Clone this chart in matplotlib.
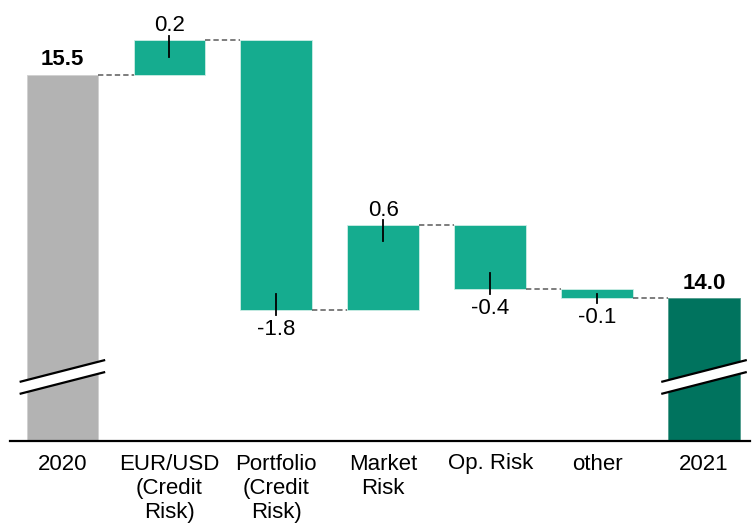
import matplotlib
matplotlib.use("Agg")
import matplotlib.pyplot as plt
from matplotlib.patches import Polygon

plt.rcParams["font.family"] = ["Liberation Sans Narrow", "Liberation Sans", "DejaVu Sans"]

# data
categorias = ["2020", "EUR/USD\n(Credit\nRisk)", "Portfolio\n(Credit\nRisk)",
              "Market\nRisk", "Op. Risk", "other", "2021"]
inicio = 15.5
deltas = [0.23, -1.80, 0.57, -0.43, -0.06]
fin = inicio + sum(deltas)

gris = "#B3B3B3"
verde = "#15AC8F"
verde_osc = "#00735E"
ancho = 0.67
y_min, y_max = 13.06, 16.0

fig = plt.figure(figsize=(7.53, 5.25), dpi=100)
ax = fig.add_axes([10 / 753, 84 / 525, 740 / 753, 441 / 525])

xs = list(range(len(categorias)))

# start and end totals
ax.bar(xs[0], inicio, width=ancho, color=gris, edgecolor="#D0D0D0", linewidth=0.6)
ax.bar(xs[-1], fin, width=ancho, color=verde_osc, edgecolor="#4E9C8C", linewidth=0.6)

# deltas
niveles = [inicio]
for i, d in enumerate(deltas):
    base = niveles[-1]
    ax.bar(xs[i + 1], d, bottom=base, width=ancho, color=verde,
           edgecolor="#CDEDE6", linewidth=0.6)
    niveles.append(base + d)

# dashed connectors
for i in range(len(xs) - 1):
    ax.plot([xs[i] + ancho / 2, xs[i + 1] - ancho / 2], [niveles[i], niveles[i]],
            color="#5A5A5A", linestyle=(0, (3.5, 2)), linewidth=1.1)

# delta labels with small pointer ticks
for i, d in enumerate(deltas):
    x = xs[i + 1]
    base = niveles[i]
    tope = base + d
    dentro = min(0.11, abs(d) / 2)
    if d >= 0:
        ax.plot([x, x], [tope + 0.033, tope - dentro], color="black", linewidth=1.3)
        ax.annotate(f"{d:.1f}", (x, tope), xytext=(0, 6.5), textcoords="offset points",
                    ha="center", va="baseline", fontsize=16)
    else:
        ax.plot([x, x], [tope - 0.033, tope + dentro], color="black", linewidth=1.3)
        ax.annotate(f"{d:.1f}", (x, tope), xytext=(0, -18), textcoords="offset points",
                    ha="center", va="baseline", fontsize=16)

# totals labels
ax.annotate(f"{inicio:.1f}", (xs[0], inicio), xytext=(0, 7), textcoords="offset points",
            ha="center", va="baseline", fontsize=16, fontweight="bold")
ax.annotate(f"{fin:.1f}", (xs[-1], fin), xytext=(0, 7), textcoords="offset points",
            ha="center", va="baseline", fontsize=16, fontweight="bold")

# axis break marks
yb, pend, gap, mitad = 13.487, 0.073, 0.04, 0.40
for x in (xs[0], xs[-1]):
    sup = [(x - mitad, yb - pend + gap), (x + mitad, yb + pend + gap)]
    inf = [(x - mitad, yb - pend - gap), (x + mitad, yb + pend - gap)]
    ax.add_patch(Polygon(sup + inf[::-1], closed=True, facecolor="white",
                         edgecolor="none", zorder=3))
    for linea in (sup, inf):
        ax.plot([p[0] for p in linea], [p[1] for p in linea], color="black",
                linewidth=1.6, zorder=4, solid_capstyle="butt")

ax.set_xlim(-0.49, 6.43)
ax.set_ylim(y_min, y_max)
ax.set_xticks(xs)
ax.set_xticklabels(categorias, fontsize=16, linespacing=1.2)
ax.tick_params(axis="x", length=0, pad=9)
ax.set_yticks([])
for lado in ("top", "right", "left"):
    ax.spines[lado].set_visible(False)
ax.spines["bottom"].set_linewidth(1.6)
ax.spines["bottom"].set_color("black")

fig.savefig("out.png", dpi=100)
